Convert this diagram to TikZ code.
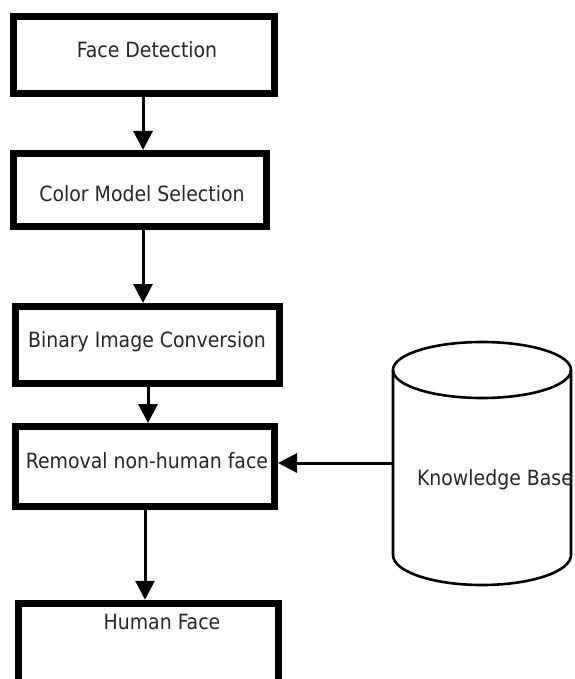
\documentclass[tikz,border=0pt]{standalone}
\usepackage{fontspec}
\setmainfont{DejaVu Sans Condensed}
\usetikzlibrary{arrows.meta}
\tikzset{
  stepbox/.style={draw=black, line width=7pt, fill=white, inner sep=0pt, anchor=center},
  lbl/.style={text=black!85, font=\fontsize{21}{24}\selectfont, inner sep=0pt},
  flow/.style={line width=3pt, -{Triangle[length=19pt,width=19pt]}},
  cyl/.style={line width=2.6pt}
}
\begin{document}
\begin{tikzpicture}[x=1pt,y=-1pt]
\useasboundingbox (0,0) rectangle (574,679);
\node[stepbox, minimum width=261pt, minimum height=77pt] (b1) at (144,55) {};
\node[lbl] (t1) at (147,50) {Face Detection};
\node[stepbox, minimum width=253pt, minimum height=73pt] (b2) at (140,190) {};
\node[lbl] (t2) at (142,194) {Color Model Selection};
\node[stepbox, minimum width=264pt, minimum height=77pt] (b3) at (147.5,345) {};
\node[lbl] (t3) at (147,342) {Binary Image Conversion};
\node[stepbox, minimum width=259pt, minimum height=80pt] (b4) at (145,466.5) {};
\node[lbl] (t4) at (147,461) {Removal non-human face};
\node[stepbox, minimum width=260pt, minimum height=97pt] (b5) at (148.5,651.75) {};
\node[lbl] (t5) at (162,622) {Human Face};
% cylinder
\draw[cyl, fill=white] (393,370) -- (393,555) arc[start angle=180, end angle=360, x radius=89pt, y radius=30pt] -- (571,370);
\draw[cyl] (482,370) ellipse [x radius=89pt, y radius=28pt];
\node[lbl] (kb) at (495,480) {Knowledge Base};
\coordinate (kbl) at (392,463);
% arrows
\draw[flow] (b1.south -| 143,0) -- (b2.north -| 143,0);
\draw[flow] (b2.south -| 143,0) -- (b3.north -| 143,0);
\draw[flow] (b3.south -| 148,0) -- (b4.north -| 148,0);
\draw[flow] (b4.south -| 145,0) -- (b5.north -| 145,0);
\draw[flow] (kbl) -- (b4.east |- kbl);
\end{tikzpicture}
\end{document}
